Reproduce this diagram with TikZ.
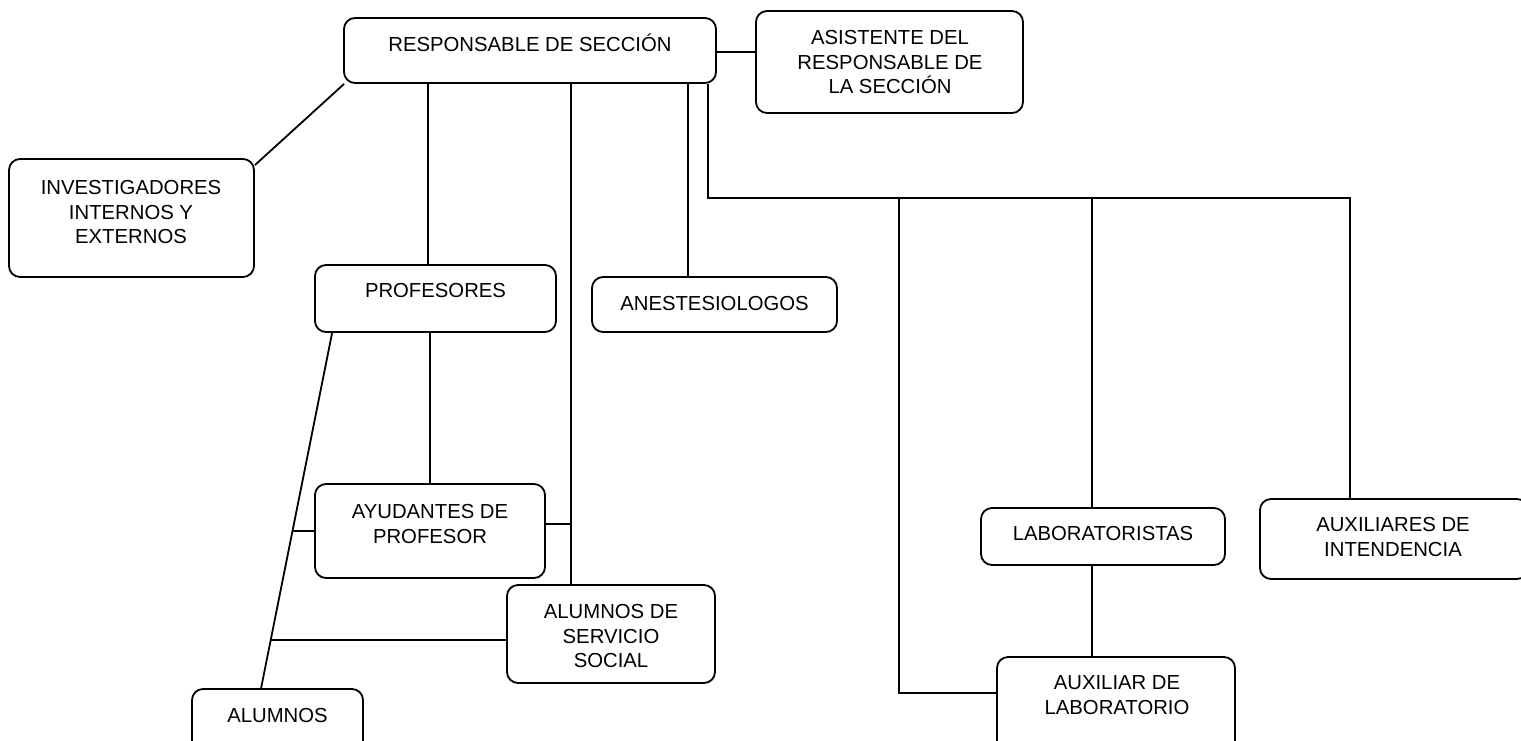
\documentclass[tikz,border=0pt]{standalone}
\usepackage{fontspec}
\setmainfont{Liberation Sans}

\begin{document}
\begin{tikzpicture}[x=1pt,y=-1pt,
    box/.style={draw, line width=1.8pt, rounded corners=11pt},
    txt/.style={align=center, inner sep=0pt, font=\fontsize{20.3}{24.5}\selectfont},
    link/.style={line width=1.8pt}]
    \useasboundingbox (0,0) rectangle (1521,740);
    % boxes
    \node[box, minimum width=372pt, minimum height=65pt] (resp) at (530,50.5) {};
    \node[box, minimum width=267pt, minimum height=102pt] (asist) at (889.5,62) {};
    \node[box, minimum width=245pt, minimum height=118pt] (invest) at (131.5,218) {};
    \node[box, minimum width=241pt, minimum height=67pt] (prof) at (435.5,298.5) {};
    \node[box, minimum width=245pt, minimum height=55pt] (anest) at (714.5,304.5) {};
    \node[box, minimum width=230pt, minimum height=94pt] (ayud) at (430,531) {};
    \node[box, minimum width=208pt, minimum height=98pt] (serv) at (611,634) {};
    \node[box, minimum width=171pt, minimum height=81pt] (alum) at (277.5,729.5) {};
    \node[box, minimum width=244pt, minimum height=57pt] (labor) at (1103,536.5) {};
    \node[box, minimum width=268pt, minimum height=80pt] (auxint) at (1394,539) {};
    \node[box, minimum width=238pt, minimum height=113pt] (auxlab) at (1116,713.5) {};
    % texts
    \node[txt, anchor=base] (resp-t) at (530,51) {RESPONSABLE DE SECCIÓN};
    \node[txt] (asist-t) at (890,62.5) {ASISTENTE DEL\\RESPONSABLE DE\\LA SECCIÓN};
    \node[txt] (invest-t) at (131,212.5) {INVESTIGADORES\\INTERNOS Y\\EXTERNOS};
    \node[txt, anchor=base] (prof-t) at (435.5,297) {PROFESORES};
    \node[txt, anchor=base] (anest-t) at (714.5,310) {ANESTESIOLOGOS};
    \node[txt] (ayud-t) at (430,524) {AYUDANTES DE\\PROFESOR};
    \node[txt] (serv-t) at (611,636) {ALUMNOS DE\\SERVICIO\\SOCIAL};
    \node[txt, anchor=base] (alum-t) at (277.5,722) {ALUMNOS};
    \node[txt, anchor=base] (labor-t) at (1103,540) {LABORATORISTAS};
    \node[txt] (auxint-t) at (1393,537) {AUXILIARES DE\\INTENDENCIA};
    \node[txt] (auxlab-t) at (1117,695) {AUXILIAR DE\\LABORATORIO};
    % connectors
    \coordinate (bus-l) at (708,198);
    \coordinate (bus-r) at (1350,198);
    \coordinate (lab-turn) at (899,693);
    \draw[link] ([xshift=1pt]resp.south west) -- ([yshift=-7pt]invest.north east);
    \draw[link] (resp.east |- 0,52) -- (asist.west |- 0,52);
    \draw[link] ([xshift=-7.5pt]prof.north) -- ([xshift=-7.5pt]prof.north |- resp.south);
    \draw[link] ([xshift=-40pt]serv.north) -- ([xshift=-40pt]serv.north |- resp.south);
    \draw[link] ([xshift=-26.5pt]anest.north) -- ([xshift=-26.5pt]anest.north |- resp.south);
    \draw[link] (bus-l |- resp.south) -- (bus-l) -- (bus-r) -- (bus-r |- auxint.north);
    \draw[link] (lab-turn |- bus-l) -- (lab-turn) -- (lab-turn -| auxlab.west);
    \draw[link] ([xshift=-11pt]labor.north) -- ([xshift=-11pt]labor.north |- bus-l);
    \draw[link] ([xshift=-11pt]labor.south) -- ([xshift=-11pt]labor.south |- auxlab.north);
    \draw[link] (ayud.north) -- (ayud.north |- prof.south);
    \draw[link] ([xshift=18pt]prof.south west) -- ([xshift=70pt]alum.north west)
        coordinate[pos=0.558] (d1) coordinate[pos=0.8655] (d2);
    \draw[link] (d1) -- (d1 -| ayud.west);
    \draw[link] ([yshift=7pt]ayud.east) -- ++(26,0);
    \draw[link] (d2) -- (d2 -| serv.west);
\end{tikzpicture}
\end{document}
